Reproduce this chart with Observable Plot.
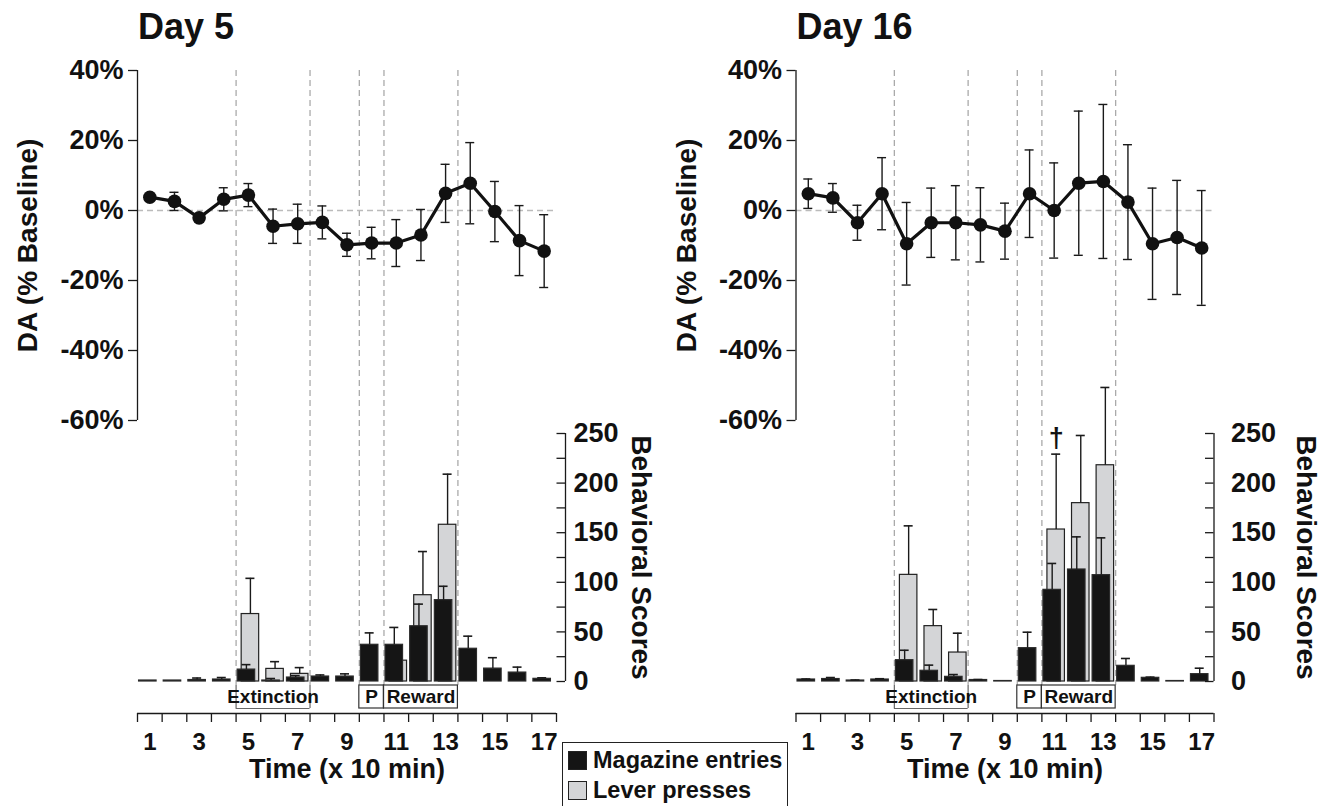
<!DOCTYPE html>
<html>
<head>
<meta charset="utf-8">
<script src="https://cdn.jsdelivr.net/npm/d3@7"></script>
<script src="https://cdn.jsdelivr.net/npm/@observablehq/plot@0.6"></script>
<style>
  html, body { margin: 0; padding: 0; background: white; }
  #root { position: relative; width: 1330px; height: 806px; overflow: hidden;
          font-family: "Liberation Sans", Arial, Helvetica, sans-serif; font-weight: bold; color: #111; }
  #root svg { position: absolute; left: 0; top: 0; }
  .title { position: absolute; top: 9px; font-size: 36px; line-height: 36px; }
  #legend { position: absolute; left: 562px; top: 742px; width: 226px; height: 80px;
            border: 1.5px solid #222; background: white; box-sizing: border-box; }
  .lrow { position: absolute; left: 5px; height: 24px; font-size: 23.5px; line-height: 24px; white-space: nowrap; }
  .sw { display: inline-block; width: 17px; height: 17px; border: 1px solid #222; vertical-align: -2px; margin-right: 6px; }
</style>
</head>
<body>
<div id="root"></div>
<script>
// ---------------- data ----------------
const times = [1,2,3,4,5,6,7,8,9,10,11,12,13,14,15,16,17];

// Day 5: DA (% of baseline), mean and SEM
const da5Mean = [3.8, 2.6, -2.1, 3.2, 4.4, -4.5, -3.8, -3.4, -9.8, -9.3, -9.3, -7.0, 4.9, 7.8, -0.3, -8.6, -11.6];
const da5Sem  = [0.8, 2.6, 0.8, 3.3, 3.3, 4.9, 5.6, 4.7, 3.3, 4.5, 6.7, 7.3, 8.3, 11.6, 8.6, 10.0, 10.4];
// Day 5: behaviour
const mag5      = [1, 1, 1.5, 2, 12, 1, 4, 5, 5, 37, 37, 55.7, 82, 33, 13, 9, 2.7];
const mag5Err   = [0, 0, 2, 2, 5, 2, 2, 1.6, 2.7, 12, 17.5, 22.3, 14, 12.7, 11, 5.5, 1];
const lever5    = [0, 0, 0, 0, 68, 12.7, 7.7, 0, 0, 0, 21, 87, 158, 0, 0, 0, 0];
const lever5Err = [0, 0, 0, 0, 36, 7.3, 6.3, 0, 0, 0, 0, 44, 51, 0, 0, 0, 0];

// Day 16: DA (% of baseline), mean and SEM
const da16Mean = [4.8, 3.6, -3.5, 4.8, -9.5, -3.5, -3.5, -4.1, -5.9, 4.8, 0, 7.8, 8.3, 2.4, -9.5, -7.7, -10.7];
const da16Sem  = [4.2, 4.1, 5.0, 10.3, 11.8, 9.9, 10.6, 10.6, 8.0, 12.5, 13.6, 20.6, 22.0, 16.4, 15.9, 16.3, 16.4];
// Day 16: behaviour
const mag16      = [2, 2.5, 1, 2, 21.5, 10.8, 4.7, 1.5, 0.5, 33.6, 92.4, 112.9, 107.2, 15.8, 3.7, 0.5, 7.4];
const mag16Err   = [0.5, 1.5, 0.5, 0.8, 10, 5.7, 2.3, 0.5, 0, 16.1, 26.6, 32.9, 37.6, 7.4, 0.7, 0, 6];
const lever16    = [0, 0, 0, 0, 107.5, 55.8, 29.2, 0, 0, 0, 153.2, 179.8, 218, 0, 0, 0, 0];
const lever16Err = [0, 0, 0, 0, 49.4, 16.8, 19.5, 0, 0, 0, 76, 68.2, 78.4, 0, 0, 0, 0];

const boundaries = [4.5, 7.5, 9.5, 10.5, 13.5];
const phases = [
  {label: "Extinction", start: 4.5, end: 7.5, kind: "bracket"},
  {label: "P", start: 9.5, end: 10.5, kind: "box"},
  {label: "Reward", start: 10.5, end: 13.5, kind: "box"}
];
const daTicks = [-60, -40, -20, 0, 20, 40];
const barTicks = [0, 25, 50, 75, 100, 125, 150, 175, 200, 225, 250];
const barLabels = [0, 50, 100, 150, 200, 250];
const timeLabels = [1, 3, 5, 7, 9, 11, 13, 15, 17];
const timeEdges = [0.5,1.5,2.5,3.5,4.5,5.5,6.5,7.5,8.5,9.5,10.5,11.5,12.5,13.5,14.5,15.5,16.5,17.5];
const annotations16 = [{t: 11, label: "†"}];
const legendItems = [
  {label: "Magazine entries", fill: "#151515"},
  {label: "Lever presses", fill: "#d4d5d7"}
];

// ---------------- layout ----------------
const W = 1330, H = 806;
const DA_TOP = 70, DA_BOTTOM = 420;
const BAR_TOP = 433, BAR_BOTTOM = 681;
const BOX_TOP = 685, BOX_BOTTOM = 708;
const AXIS_Y = 713;
const panels = [
  {title: "Day 5", x0: 137, x1: 556, barAxis: 565, tickPad: 8, labelDx: 75,
   daMean: da5Mean, daSem: da5Sem, mag: mag5, magErr: mag5Err, lever: lever5, leverErr: lever5Err, notes: []},
  {title: "Day 16", x0: 795.5, x1: 1213.5, barAxis: 1213.5, tickPad: 17, labelDx: 92,
   daMean: da16Mean, daSem: da16Sem, mag: mag16, magErr: mag16Err, lever: lever16, leverErr: lever16Err, notes: annotations16}
];

const FONT = "'Liberation Sans', Arial, Helvetica, sans-serif";
function base(o) {
  return Object.assign({
    width: W, height: H,
    style: {background: "transparent", fontFamily: FONT, fontWeight: "bold", fontSize: "27px", color: "#111", overflow: "visible"}
  }, o);
}

const root = document.getElementById("root");
const DARK = "#1a1a1a";

for (const p of panels) {
  const step = (p.x1 - p.x0) / 17;
  const cap = 4.5 / step;
  const hw = 8.75 / step;
  const tEnd = 0.5 + (p.barAxis - p.x0) / step;

  const da = times.map((t, i) => ({t, m: p.daMean[i], s: p.daSem[i]}));
  const bars = times.map((t, i) => ({t, mag: p.mag[i], magErr: p.magErr[i], lever: p.lever[i], leverErr: p.leverErr[i]}));
  const leverBars = bars.filter(d => d.lever > 0);
  const leverErrs = bars.filter(d => d.leverErr > 0);
  const magErrs = bars.filter(d => d.magErr > 0);

  // phase guides (dashed verticals)
  root.appendChild(Plot.plot(base({
    marginTop: DA_TOP, marginBottom: H - BOX_TOP, marginLeft: p.x0, marginRight: W - p.x1,
    x: {domain: [0.5, 17.5], axis: null},
    marks: [Plot.ruleX(boundaries, {stroke: "#aaa", strokeWidth: 1.3, strokeDasharray: "6,4"})]
  })));

  // DA panel
  root.appendChild(Plot.plot(base({
    marginTop: DA_TOP, marginBottom: H - DA_BOTTOM, marginLeft: p.x0, marginRight: W - p.x1,
    x: {domain: [0.5, 17.5], axis: null},
    y: {domain: [-60, 40]},
    marks: [
      Plot.ruleY([0], {stroke: "#bbb", strokeWidth: 1.3, strokeDasharray: "6,4"}),
      Plot.ruleX([0.5], {stroke: DARK, strokeWidth: 1.3}),
      Plot.axisY({anchor: "left", ticks: daTicks, tickFormat: d => d + "%", tickSize: 9, tickPadding: 5, label: null, stroke: DARK, strokeWidth: 1.3}),
      Plot.ruleX(da, {x: "t", y1: d => d.m - d.s, y2: d => d.m + d.s, stroke: DARK, strokeWidth: 1.4}),
      Plot.ruleY(da, {y: d => d.m + d.s, x1: d => d.t - cap, x2: d => d.t + cap, stroke: DARK, strokeWidth: 1.4}),
      Plot.ruleY(da, {y: d => d.m - d.s, x1: d => d.t - cap, x2: d => d.t + cap, stroke: DARK, strokeWidth: 1.4}),
      Plot.line(da, {x: "t", y: "m", stroke: "#111", strokeWidth: 3.2}),
      Plot.dot(da, {x: "t", y: "m", r: 6.8, fill: "#111", stroke: "none"}),
      Plot.text(["DA (% Baseline)"], {frameAnchor: "left", textAnchor: "middle", dx: -109, rotate: -90, fontSize: 28})
    ]
  })));

  // behaviour bars
  root.appendChild(Plot.plot(base({
    marginTop: BAR_TOP, marginBottom: H - BAR_BOTTOM, marginLeft: p.x0, marginRight: W - p.barAxis,
    x: {domain: [0.5, tEnd], axis: null},
    y: {domain: [0, 250]},
    marks: [
      Plot.rect(leverBars, {x1: d => d.t - hw, x2: d => d.t + hw, y1: d => 0, y2: "lever", dx: 2, fill: "#d4d5d7", stroke: "#222", strokeWidth: 1.2}),
      Plot.ruleX(leverErrs, {x: "t", y1: "lever", y2: d => d.lever + d.leverErr, dx: 2, stroke: DARK, strokeWidth: 1.4}),
      Plot.ruleY(leverErrs, {y: d => d.lever + d.leverErr, x1: d => d.t - cap, x2: d => d.t + cap, dx: 2, stroke: DARK, strokeWidth: 1.6}),
      Plot.rect(bars, {x1: d => d.t - hw, x2: d => d.t + hw, y1: d => 0, y2: "mag", dx: -2, fill: "#151515", stroke: "#2a2a2a", strokeWidth: 1.2}),
      Plot.ruleX(magErrs, {x: "t", y1: "mag", y2: d => d.mag + d.magErr, dx: -2, stroke: DARK, strokeWidth: 1.4}),
      Plot.ruleY(magErrs, {y: d => d.mag + d.magErr, x1: d => d.t - cap, x2: d => d.t + cap, dx: -2, stroke: DARK, strokeWidth: 1.6}),
      Plot.ruleX([tEnd], {y1: 0, y2: 250, stroke: DARK, strokeWidth: 1.3}),
      Plot.ruleY(barTicks, {y: d => d, x1: tEnd - 8.5 / step, x2: tEnd, stroke: DARK, strokeWidth: 1.3}),
      Plot.axisY({anchor: "right", ticks: barLabels, tickSize: 0, tickPadding: p.tickPad, label: null}),
      Plot.text(["Behavioral Scores"], {frameAnchor: "right", textAnchor: "middle", dx: p.labelDx, rotate: 90, fontSize: 28}),
      Plot.text(p.notes, {x: "t", y: d => { const b = bars.find(e => e.t === d.t); return b.lever + b.leverErr; },
                          text: "label", dx: 2, dy: -7, lineAnchor: "bottom", fontSize: 27})
    ]
  })));

  // phase boxes
  root.appendChild(Plot.plot(base({
    marginTop: BOX_TOP, marginBottom: H - BOX_BOTTOM, marginLeft: p.x0, marginRight: W - p.x1,
    x: {domain: [0.5, 17.5], axis: null},
    y: {domain: [0, 1], axis: null},
    marks: [
      Plot.ruleX(phases.filter(d => d.kind === "bracket").flatMap(d => [d.start, d.end]), {stroke: "#666", strokeWidth: 1.2}),
      Plot.ruleY(phases.filter(d => d.kind === "bracket"), {y: d => 0, x1: "start", x2: "end", stroke: "#666", strokeWidth: 1.2}),
      Plot.rect(phases.filter(d => d.kind === "box"), {x1: "start", x2: "end", y1: d => 0, y2: d => 1, fill: "none", stroke: "#333", strokeWidth: 1.2}),
      Plot.text(phases, {x: d => (d.start + d.end) / 2, y: d => 0.5, text: "label", fontSize: 19})
    ]
  })));

  // time axis
  root.appendChild(Plot.plot(base({
    marginTop: 600, marginBottom: H - AXIS_Y, marginLeft: p.x0, marginRight: W - p.x1,
    x: {domain: [0.5, 17.5]},
    y: {domain: [0, 1], axis: null},
    marks: [
      Plot.ruleY([0], {stroke: DARK, strokeWidth: 1.3}),
      Plot.axisX({anchor: "bottom", ticks: timeEdges, tickSize: 9, tickFormat: () => "", label: null, stroke: DARK, strokeWidth: 1.3}),
      Plot.axisX({anchor: "bottom", ticks: timeLabels, tickSize: 0, tickPadding: 19, label: null, fontSize: 24}),
      Plot.text(["Time (x 10 min)"], {frameAnchor: "bottom", dy: 64, fontSize: 27})
    ]
  })));

  const title = document.createElement("div");
  title.className = "title";
  title.style.left = (p.x0 + 1) + "px";
  title.textContent = p.title;
  root.appendChild(title);
}

// legend
const legend = document.createElement("div");
legend.id = "legend";
legendItems.forEach((item, i) => {
  const row = document.createElement("div");
  row.className = "lrow";
  row.style.top = (5 + i * 30) + "px";
  const sw = document.createElement("span");
  sw.className = "sw";
  sw.style.background = item.fill;
  row.appendChild(sw);
  row.appendChild(document.createTextNode(item.label));
  legend.appendChild(row);
});
root.appendChild(legend);
</script>
</body>
</html>
